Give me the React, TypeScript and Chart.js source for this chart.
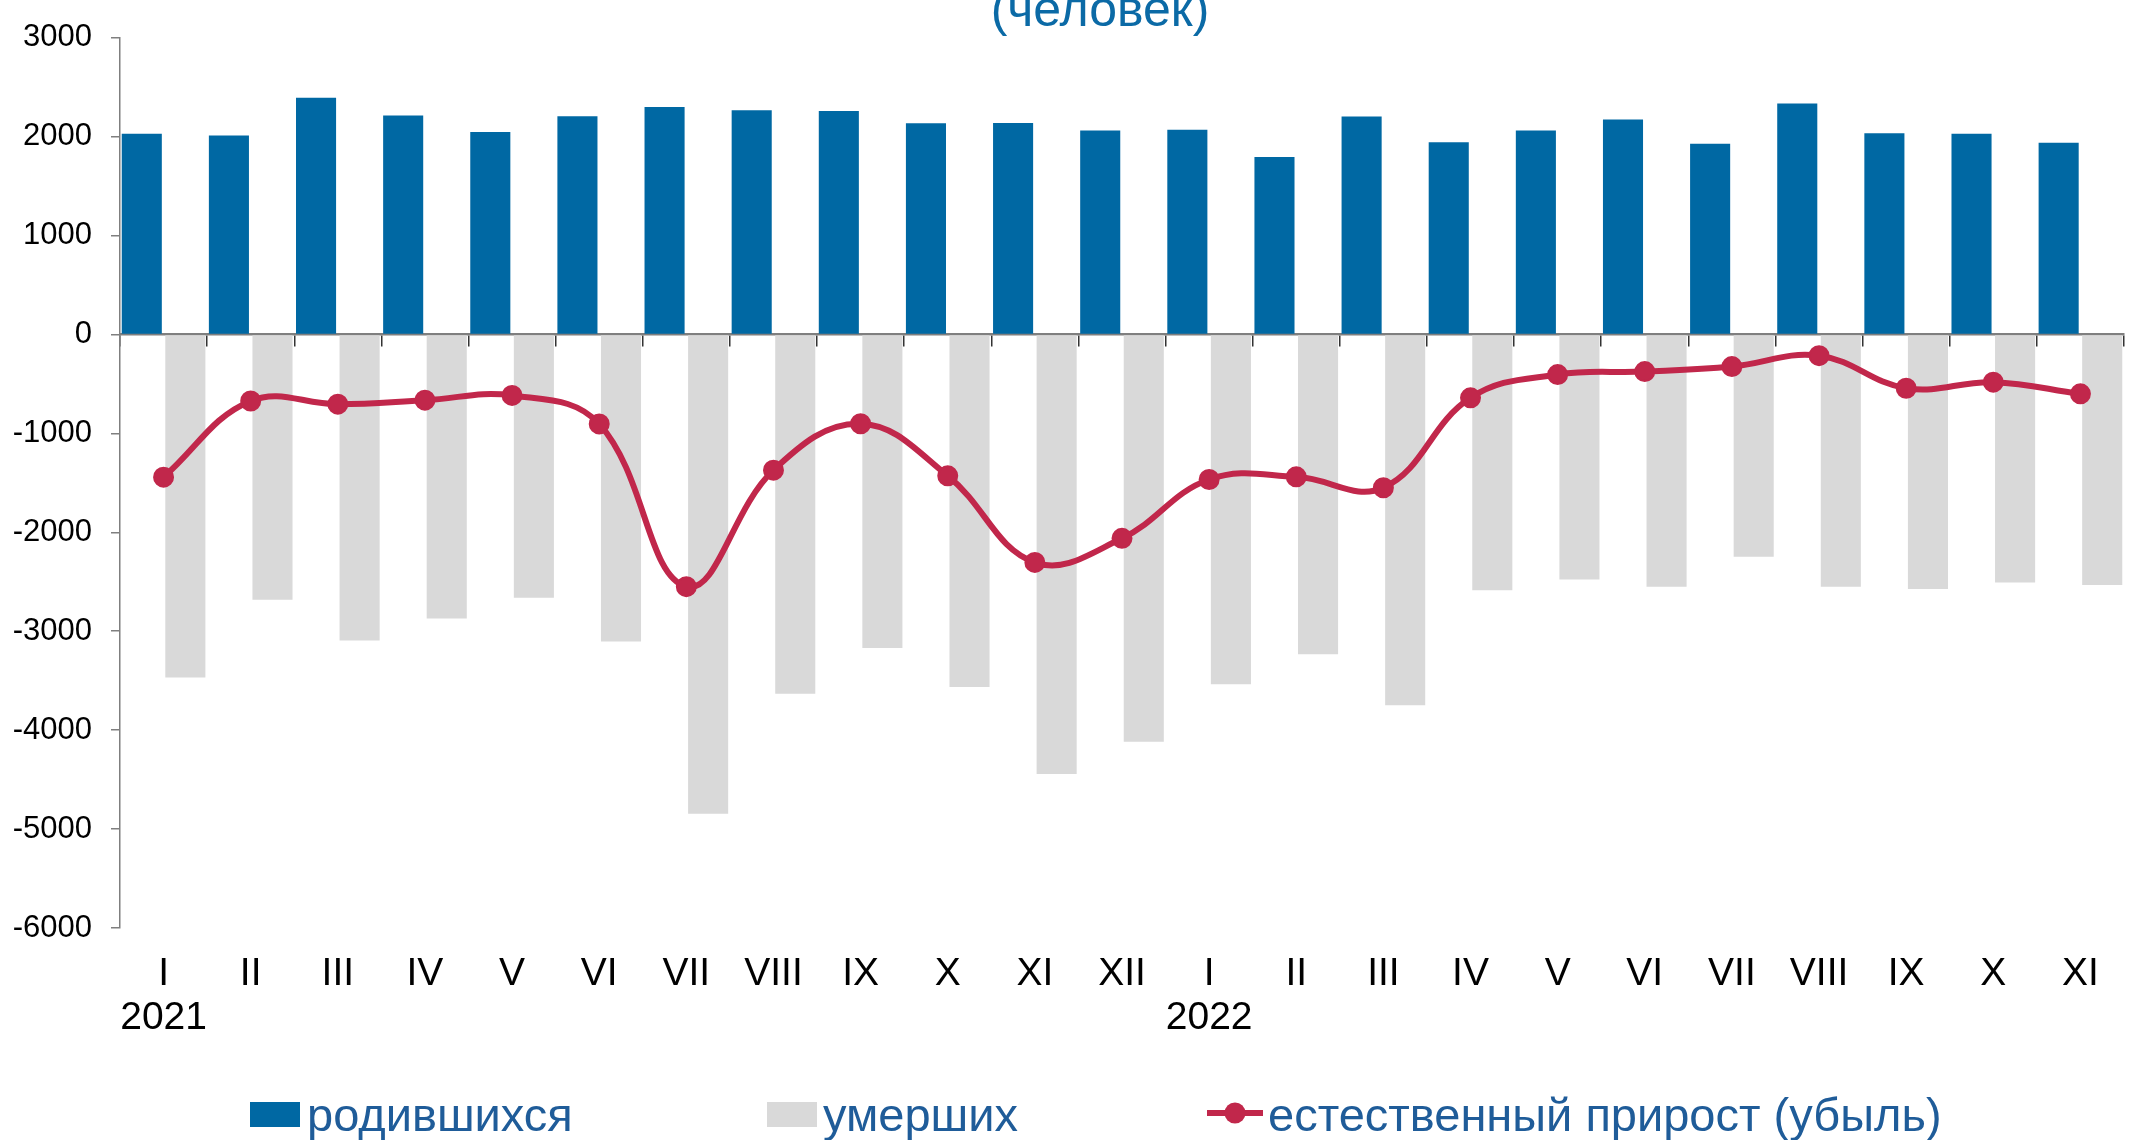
import React, { useEffect, useRef } from 'react';
import { Chart, registerables } from 'chart.js';

Chart.register(...registerables);

// ---- data ----
const months = ['I', 'II', 'III', 'IV', 'V', 'VI', 'VII', 'VIII', 'IX', 'X', 'XI', 'XII',
  'I', 'II', 'III', 'IV', 'V', 'VI', 'VII', 'VIII', 'IX', 'X', 'XI'];
const yearMarks: { [index: number]: string } = { 0: '2021', 12: '2022' };

const births = [2027, 2010, 2393, 2212, 2047, 2205, 2299, 2265, 2259, 2134, 2138, 2061,
  2068, 1792, 2202, 1943, 2061, 2172, 1927, 2333, 2034, 2027, 1937];
const deaths = [-3469, -2683, -3094, -2871, -2662, -3105, -4846, -3631, -3171, -3564, -4443, -4118,
  -3537, -3232, -3748, -2587, -2477, -2550, -2248, -2550, -2574, -2507, -2534];
const naturalGrowth = [-1443, -673, -705, -665, -617, -905, -2550, -1372, -903, -1430, -2305, -2061,
  -1467, -1440, -1550, -641, -406, -376, -325, -215, -544, -483, -601];

const yMin = -6000;
const yMax = 3000;
const yStep = 1000;

const seriesNames = ['родившихся', 'умерших', 'естественный прирост (убыль)'];
const titleText = '(человек)';

// ---- styles ----
const FONT = '"Liberation Sans", Arial, Helvetica, sans-serif';
const BLUE = '#0068A3';
const GREY = '#D9D9D9';
const RED = '#C1274B';
const LEGEND_TEXT = '#1F5C99';
const TITLE_TEXT = '#0B6AA6';
const AXIS = '#7F7F7F';

const overlayPlugin = {
  id: 'overlay',
  afterDraw(chart: any) {
    const ctx = chart.ctx as CanvasRenderingContext2D;
    ctx.save();
    // title (cut off at top)
    ctx.fillStyle = TITLE_TEXT;
    ctx.font = `50px ${FONT}`;
    ctx.textAlign = 'center';
    ctx.textBaseline = 'alphabetic';
    ctx.fillText(titleText, 1100, 26);

    // legend
    ctx.textAlign = 'left';
    ctx.font = `47px ${FONT}`;
    const baseline = 1131;
    // births
    ctx.fillStyle = BLUE;
    ctx.fillRect(250, 1102, 50, 25);
    ctx.fillStyle = LEGEND_TEXT;
    ctx.fillText(seriesNames[0], 307, baseline);
    // deaths
    ctx.fillStyle = GREY;
    ctx.fillRect(767, 1102, 50, 25);
    ctx.fillStyle = LEGEND_TEXT;
    ctx.fillText(seriesNames[1], 823, baseline);
    // natural growth
    ctx.strokeStyle = RED;
    ctx.lineWidth = 6;
    ctx.beginPath();
    ctx.moveTo(1207, 1113);
    ctx.lineTo(1263, 1113);
    ctx.stroke();
    ctx.fillStyle = RED;
    ctx.beginPath();
    ctx.arc(1235, 1113, 10.5, 0, Math.PI * 2);
    ctx.fill();
    ctx.fillStyle = LEGEND_TEXT;
    ctx.fillText(seriesNames[2], 1268, baseline);
    ctx.restore();
  },
};

export default function App() {
  const canvasRef = useRef<HTMLCanvasElement | null>(null);

  useEffect(() => {
    document.body.style.margin = '0';
    document.body.style.overflow = 'hidden';
    const canvas = canvasRef.current;
    if (!canvas) return;
    const labels = months.map((m, i) => (yearMarks[i] ? [m, yearMarks[i]] : m));

    const chart = new Chart(canvas, {
      type: 'bar',
      data: {
        labels,
        datasets: [
          {
            type: 'bar',
            label: seriesNames[0],
            data: births,
            backgroundColor: BLUE,
            borderWidth: 0,
            barPercentage: 0.92,
            categoryPercentage: 1,
            order: 2,
          },
          {
            type: 'bar',
            label: seriesNames[1],
            data: deaths,
            backgroundColor: GREY,
            borderWidth: 0,
            barPercentage: 0.92,
            categoryPercentage: 1,
            order: 2,
          },
          {
            type: 'line',
            label: seriesNames[2],
            data: naturalGrowth,
            borderColor: RED,
            backgroundColor: RED,
            borderWidth: 6,
            tension: 0.4,
            pointRadius: 9.5,
            pointBorderWidth: 2,
            pointBackgroundColor: RED,
            pointBorderColor: RED,
            fill: false,
            order: 1,
          },
        ] as any,
      },
      options: {
        responsive: false,
        animation: false,
        devicePixelRatio: 1,
        events: [],
        layout: { padding: { top: 34, right: 15, bottom: 0, left: 0 } },
        plugins: {
          legend: { display: false },
          tooltip: { enabled: false },
          title: { display: false },
        },
        scales: {
          x: {
            type: 'category',
            position: 'bottom',
            offset: true,
            grid: { display: false, drawTicks: false },
            border: { display: false },
            ticks: {
              autoSkip: false,
              maxRotation: 0,
              minRotation: 0,
              padding: 24,
              color: '#000000',
              font: { family: FONT, size: 39, lineHeight: 1.13 },
            },
            afterFit: (s: any) => {
              s.height = 212;
            },
          },
          x0: {
            type: 'category',
            axis: 'x',
            position: { y: 0 },
            offset: true,
            z: 1,
            grid: {
              offset: true,
              drawOnChartArea: false,
              drawTicks: true,
              tickLength: 11,
              color: '#333333',
              lineWidth: 1.5,
            },
            border: { display: true, color: AXIS, width: 2.5 },
            ticks: { display: false },
          },
          y: {
            type: 'linear',
            position: 'left',
            min: yMin,
            max: yMax,
            ticks: {
              stepSize: yStep,
              padding: 19,
              color: '#000000',
              font: { family: FONT, size: 31 },
              callback: (v: any) => String(v),
            },
            grid: {
              drawOnChartArea: false,
              drawTicks: true,
              tickLength: 9,
              color: AXIS,
              lineWidth: 1.5,
            },
            border: { display: true, color: AXIS, width: 1.5 },
            afterFit: (s: any) => {
              s.width = 120;
            },
          },
        } as any,
      },
      plugins: [overlayPlugin],
    });

    return () => {
      chart.destroy();
    };
  }, []);

  return (
    <div style={{ position: 'absolute', left: 0, top: 0, width: 2139, height: 1140 }}>
      <canvas
        ref={canvasRef}
        width={2139}
        height={1140}
        style={{ display: 'block', width: 2139, height: 1140 }}
      />
    </div>
  );
}
